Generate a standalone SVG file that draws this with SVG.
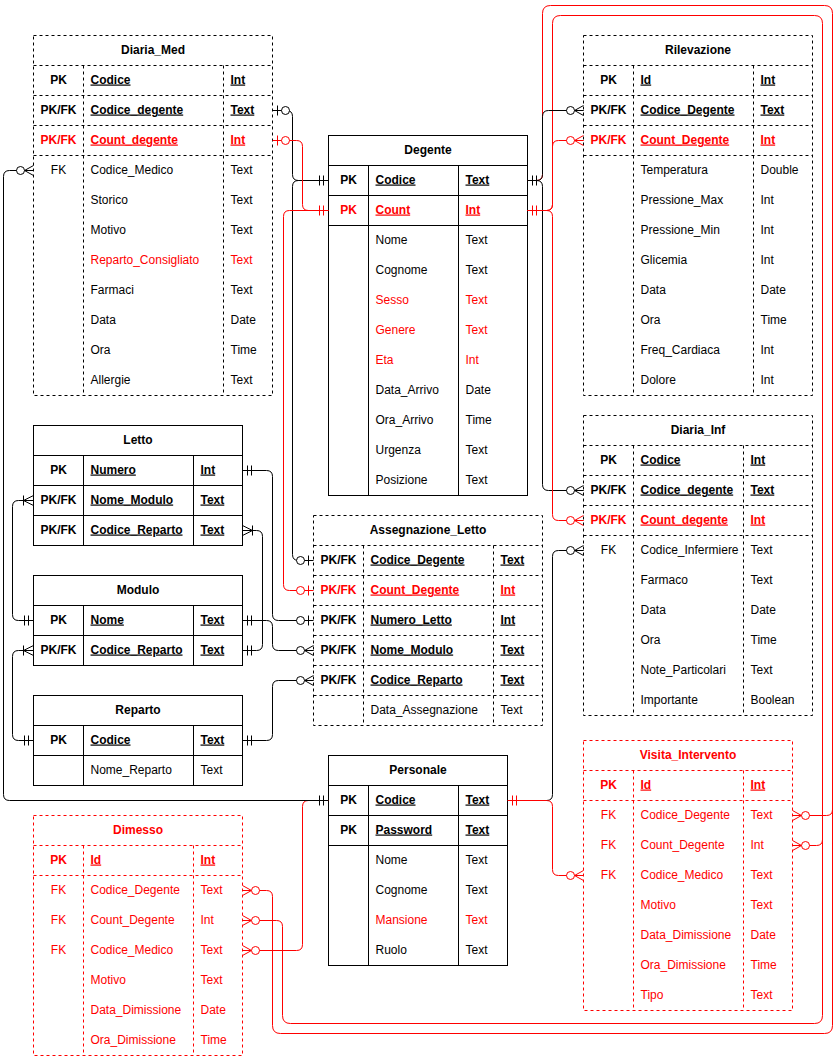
<svg xmlns="http://www.w3.org/2000/svg" xmlns:xlink="http://www.w3.org/1999/xlink" width="838" height="1058" viewBox="0 0 838 1058">
<style>
text{font-family:"Liberation Sans",Arial,Helvetica,sans-serif;font-size:12px;fill:#000;transform:translateY(-1px)}
.r,.r text{fill:#f00}
.tb{fill:#fff;stroke:#000}
.ln{fill:none;stroke:#000}
.r .tb,.r .ln{stroke:#f00}
.d{stroke-dasharray:3 3}
.k{text-anchor:middle}
.b{font-weight:bold}
.u{text-decoration:underline}
.tt{font-weight:bold;text-anchor:middle}
.c{fill:none;stroke:#000}
.cr{fill:none;stroke:#f00}
.mk{stroke:#000;fill:none}
.mr{stroke:#f00;fill:none}
</style>
<defs>
<g id="one"><path d="M5,-5V5M9,-5V5" fill="none"/></g>
<g id="zo"><path d="M5,-5V5" fill="none"/><circle cx="13" cy="0" r="4" fill="#fff"/></g>
<g id="zm"><path d="M0,-5L9,0L0,5M0,0H9" fill="none"/><circle cx="13" cy="0" r="4" fill="#fff"/></g>
<g id="om"><path d="M0,-5L10,0L0,5M0,0H10M10,-5V5" fill="none"/></g>
</defs>
<rect width="838" height="1058" fill="#fff"/>
<g transform="translate(0.5,0.5)">

<g id="diaria_med" transform="translate(33,35)">
<rect class="tb d" width="239" height="360"/>
<path class="ln d" d="M0 30H239M0 60H239M0 90H239M0 120H239M50 30V360M190 30V360"/>
<text class="tt" x="119.5" y="19">Diaria_Med</text>
<text class="k b" x="25" y="49">PK</text><text class="b u" x="57" y="49">Codice</text><text class="b u" x="197" y="49">Int</text>
<text class="k b" x="25" y="79">PK/FK</text><text class="b u" x="57" y="79">Codice_degente</text><text class="b u" x="197" y="79">Text</text>
<g class="r"><text class="k b" x="25" y="109">PK/FK</text><text class="b u" x="57" y="109">Count_degente</text><text class="b u" x="197" y="109">Int</text></g>
<text class="k" x="25" y="139">FK</text><text x="57" y="139">Codice_Medico</text><text x="197" y="139">Text</text>
<text x="57" y="169">Storico</text><text x="197" y="169">Text</text>
<text x="57" y="199">Motivo</text><text x="197" y="199">Text</text>
<g class="r"><text x="57" y="229">Reparto_Consigliato</text><text x="197" y="229">Text</text></g>
<text x="57" y="259">Farmaci</text><text x="197" y="259">Text</text>
<text x="57" y="289">Data</text><text x="197" y="289">Date</text>
<text x="57" y="319">Ora</text><text x="197" y="319">Time</text>
<text x="57" y="349">Allergie</text><text x="197" y="349">Text</text>
</g>

<g id="degente" transform="translate(328,135)">
<rect class="tb" width="199" height="360"/>
<path class="ln" d="M0 30H199M0 60H199M0 90H199M40 30V360M130 30V360"/>
<text class="tt" x="99.5" y="19">Degente</text>
<text class="k b" x="20" y="49">PK</text><text class="b u" x="47" y="49">Codice</text><text class="b u" x="137" y="49">Text</text>
<g class="r"><text class="k b" x="20" y="79">PK</text><text class="b u" x="47" y="79">Count</text><text class="b u" x="137" y="79">Int</text></g>
<text x="47" y="109">Nome</text><text x="137" y="109">Text</text>
<text x="47" y="139">Cognome</text><text x="137" y="139">Text</text>
<g class="r"><text x="47" y="169">Sesso</text><text x="137" y="169">Text</text>
<text x="47" y="199">Genere</text><text x="137" y="199">Text</text>
<text x="47" y="229">Eta</text><text x="137" y="229">Int</text></g>
<text x="47" y="259">Data_Arrivo</text><text x="137" y="259">Date</text>
<text x="47" y="289">Ora_Arrivo</text><text x="137" y="289">Time</text>
<text x="47" y="319">Urgenza</text><text x="137" y="319">Text</text>
<text x="47" y="349">Posizione</text><text x="137" y="349">Text</text>
</g>

<g id="rilevazione" transform="translate(583,35)">
<rect class="tb d" width="229" height="360"/>
<path class="ln d" d="M0 30H229M0 60H229M0 90H229M0 120H229M50 30V360M170 30V360"/>
<text class="tt" x="114.5" y="19">Rilevazione</text>
<text class="k b" x="25" y="49">PK</text><text class="b u" x="57" y="49">Id</text><text class="b u" x="177" y="49">Int</text>
<text class="k b" x="25" y="79">PK/FK</text><text class="b u" x="57" y="79">Codice_Degente</text><text class="b u" x="177" y="79">Text</text>
<g class="r"><text class="k b" x="25" y="109">PK/FK</text><text class="b u" x="57" y="109">Count_Degente</text><text class="b u" x="177" y="109">Int</text></g>
<text x="57" y="139">Temperatura</text><text x="177" y="139">Double</text>
<text x="57" y="169">Pressione_Max</text><text x="177" y="169">Int</text>
<text x="57" y="199">Pressione_Min</text><text x="177" y="199">Int</text>
<text x="57" y="229">Glicemia</text><text x="177" y="229">Int</text>
<text x="57" y="259">Data</text><text x="177" y="259">Date</text>
<text x="57" y="289">Ora</text><text x="177" y="289">Time</text>
<text x="57" y="319">Freq_Cardiaca</text><text x="177" y="319">Int</text>
<text x="57" y="349">Dolore</text><text x="177" y="349">Int</text>
</g>

<g id="diaria_inf" transform="translate(583,415)">
<rect class="tb d" width="229" height="300"/>
<path class="ln d" d="M0 30H229M0 60H229M0 90H229M0 120H229M50 30V300M160 30V300"/>
<text class="tt" x="114.5" y="19">Diaria_Inf</text>
<text class="k b" x="25" y="49">PK</text><text class="b u" x="57" y="49">Codice</text><text class="b u" x="167" y="49">Int</text>
<text class="k b" x="25" y="79">PK/FK</text><text class="b u" x="57" y="79">Codice_degente</text><text class="b u" x="167" y="79">Text</text>
<g class="r"><text class="k b" x="25" y="109">PK/FK</text><text class="b u" x="57" y="109">Count_degente</text><text class="b u" x="167" y="109">Int</text></g>
<text class="k" x="25" y="139">FK</text><text x="57" y="139">Codice_Infermiere</text><text x="167" y="139">Text</text>
<text x="57" y="169">Farmaco</text><text x="167" y="169">Text</text>
<text x="57" y="199">Data</text><text x="167" y="199">Date</text>
<text x="57" y="229">Ora</text><text x="167" y="229">Time</text>
<text x="57" y="259">Note_Particolari</text><text x="167" y="259">Text</text>
<text x="57" y="289">Importante</text><text x="167" y="289">Boolean</text>
</g>

<g id="letto" transform="translate(33,425)">
<rect class="tb" width="209" height="120"/>
<path class="ln" d="M0 30H209M0 60H209M0 90H209M50 30V120M160 30V120"/>
<text class="tt" x="104.5" y="19">Letto</text>
<text class="k b" x="25" y="49">PK</text><text class="b u" x="57" y="49">Numero</text><text class="b u" x="167" y="49">Int</text>
<text class="k b" x="25" y="79">PK/FK</text><text class="b u" x="57" y="79">Nome_Modulo</text><text class="b u" x="167" y="79">Text</text>
<text class="k b" x="25" y="109">PK/FK</text><text class="b u" x="57" y="109">Codice_Reparto</text><text class="b u" x="167" y="109">Text</text>
</g>

<g id="modulo" transform="translate(33,575)">
<rect class="tb" width="209" height="90"/>
<path class="ln" d="M0 30H209M0 60H209M50 30V90M160 30V90"/>
<text class="tt" x="104.5" y="19">Modulo</text>
<text class="k b" x="25" y="49">PK</text><text class="b u" x="57" y="49">Nome</text><text class="b u" x="167" y="49">Text</text>
<text class="k b" x="25" y="79">PK/FK</text><text class="b u" x="57" y="79">Codice_Reparto</text><text class="b u" x="167" y="79">Text</text>
</g>

<g id="reparto" transform="translate(33,695)">
<rect class="tb" width="209" height="90"/>
<path class="ln" d="M0 30H209M0 60H209M50 30V90M160 30V90"/>
<text class="tt" x="104.5" y="19">Reparto</text>
<text class="k b" x="25" y="49">PK</text><text class="b u" x="57" y="49">Codice</text><text class="b u" x="167" y="49">Text</text>
<text x="57" y="79">Nome_Reparto</text><text x="167" y="79">Text</text>
</g>

<g id="assegnazione_letto" transform="translate(313,515)">
<rect class="tb d" width="229" height="210"/>
<path class="ln d" d="M0 30H229M0 60H229M0 90H229M0 120H229M0 150H229M0 180H229M50 30V210M180 30V210"/>
<text class="tt" x="114.5" y="19">Assegnazione_Letto</text>
<text class="k b" x="25" y="49">PK/FK</text><text class="b u" x="57" y="49">Codice_Degente</text><text class="b u" x="187" y="49">Text</text>
<g class="r"><text class="k b" x="25" y="79">PK/FK</text><text class="b u" x="57" y="79">Count_Degente</text><text class="b u" x="187" y="79">Int</text></g>
<text class="k b" x="25" y="109">PK/FK</text><text class="b u" x="57" y="109">Numero_Letto</text><text class="b u" x="187" y="109">Int</text>
<text class="k b" x="25" y="139">PK/FK</text><text class="b u" x="57" y="139">Nome_Modulo</text><text class="b u" x="187" y="139">Text</text>
<text class="k b" x="25" y="169">PK/FK</text><text class="b u" x="57" y="169">Codice_Reparto</text><text class="b u" x="187" y="169">Text</text>
<text x="57" y="199">Data_Assegnazione</text><text x="187" y="199">Text</text>
</g>

<g id="personale" transform="translate(328,755)">
<rect class="tb" width="179" height="210"/>
<path class="ln" d="M0 30H179M0 60H179M0 90H179M40 30V210M130 30V210"/>
<text class="tt" x="89.5" y="19">Personale</text>
<text class="k b" x="20" y="49">PK</text><text class="b u" x="47" y="49">Codice</text><text class="b u" x="137" y="49">Text</text>
<text class="k b" x="20" y="79">PK</text><text class="b u" x="47" y="79">Password</text><text class="b u" x="137" y="79">Text</text>
<text x="47" y="109">Nome</text><text x="137" y="109">Text</text>
<text x="47" y="139">Cognome</text><text x="137" y="139">Text</text>
<g class="r"><text x="47" y="169">Mansione</text><text x="137" y="169">Text</text></g>
<text x="47" y="199">Ruolo</text><text x="137" y="199">Text</text>
</g>

<g id="visita_intervento" class="r" transform="translate(583,740)">
<rect class="tb d" width="209" height="270"/>
<path class="ln d" d="M0 30H209M0 60H209M50 30V270M160 30V270"/>
<text class="tt" x="104.5" y="19">Visita_Intervento</text>
<text class="k b" x="25" y="49">PK</text><text class="b u" x="57" y="49">Id</text><text class="b u" x="167" y="49">Int</text>
<text class="k" x="25" y="79">FK</text><text x="57" y="79">Codice_Degente</text><text x="167" y="79">Text</text>
<text class="k" x="25" y="109">FK</text><text x="57" y="109">Count_Degente</text><text x="167" y="109">Int</text>
<text class="k" x="25" y="139">FK</text><text x="57" y="139">Codice_Medico</text><text x="167" y="139">Text</text>
<text x="57" y="169">Motivo</text><text x="167" y="169">Text</text>
<text x="57" y="199">Data_Dimissione</text><text x="167" y="199">Date</text>
<text x="57" y="229">Ora_Dimissione</text><text x="167" y="229">Time</text>
<text x="57" y="259">Tipo</text><text x="167" y="259">Text</text>
</g>

<g id="dimesso" class="r" transform="translate(33,815)">
<rect class="tb d" width="209" height="240"/>
<path class="ln d" d="M0 30H209M0 60H209M50 30V240M160 30V240"/>
<text class="tt" x="104.5" y="19">Dimesso</text>
<text class="k b" x="25" y="49">PK</text><text class="b u" x="57" y="49">Id</text><text class="b u" x="167" y="49">Int</text>
<text class="k" x="25" y="79">FK</text><text x="57" y="79">Codice_Degente</text><text x="167" y="79">Text</text>
<text class="k" x="25" y="109">FK</text><text x="57" y="109">Count_Degente</text><text x="167" y="109">Int</text>
<text class="k" x="25" y="139">FK</text><text x="57" y="139">Codice_Medico</text><text x="167" y="139">Text</text>
<text x="57" y="169">Motivo</text><text x="167" y="169">Text</text>
<text x="57" y="199">Data_Dimissione</text><text x="167" y="199">Date</text>
<text x="57" y="229">Ora_Dimissione</text><text x="167" y="229">Time</text>
</g>

<g id="connectors">
<g id="red-back">
<path class="cr" d="M242 890H266Q272 890 272 896V1025Q272 1033 280 1033H824Q832 1033 832 1025V13Q832 5 824 5H550Q542 5 542 13V174Q542 180 536 180H527"/>
<path class="cr" d="M242 920H276Q282 920 282 926V1015Q282 1023 290 1023H814Q822 1023 822 1015V23Q822 15 814 15H560Q552 15 552 23V204Q552 210 546 210H527"/>
<path class="cr" d="M792 815H826Q832 815 832 809V700"/>
<path class="cr" d="M792 845H816Q822 845 822 839V700"/>
<path class="cr" d="M242 950H296Q302 950 302 944V806Q302 800 308 800H328"/>
<use xlink:href="#zm" class="mr" transform="translate(242,890)"/>
<use xlink:href="#zm" class="mr" transform="translate(242,920)"/>
<use xlink:href="#zm" class="mr" transform="translate(242,950)"/>
<use xlink:href="#zm" class="mr" transform="translate(792,815)"/>
<use xlink:href="#zm" class="mr" transform="translate(792,845)"/>
</g>
<g id="black">
<path class="c" d="M272 110H286Q292 110 292 116V174Q292 180 298 180H328"/>
<path class="c" d="M328 180H298Q292 180 292 186V554Q292 560 298 560H313"/>
<path class="c" d="M527 180H536Q542 180 542 174V116Q542 110 548 110H583"/>
<path class="c" d="M527 180H536Q542 180 542 186V484Q542 490 548 490H583"/>
<path class="c" d="M583 550H558Q552 550 552 556V794Q552 800 546 800H507"/>
<path class="c" d="M33 170H9Q3 170 3 176V794Q3 800 9 800H328"/>
<path class="c" d="M242 470H266Q272 470 272 476V614Q272 620 278 620H313"/>
<path class="c" d="M242 620H266Q272 620 272 626V644Q272 650 278 650H313"/>
<path class="c" d="M242 530H256Q262 530 262 536V644Q262 650 256 650H242"/>
<path class="c" d="M242 740H266Q272 740 272 734V686Q272 680 278 680H313"/>
<path class="c" d="M33 500H18Q12 500 12 506V614Q12 620 18 620H33"/>
<path class="c" d="M33 650H18Q12 650 12 656V734Q12 740 18 740H33"/>
<use xlink:href="#zo" class="mk" transform="translate(272,110)"/>
<use xlink:href="#one" class="mk" transform="translate(328,180) scale(-1,1)"/>
<use xlink:href="#zo" class="mk" transform="translate(313,560) scale(-1,1)"/>
<use xlink:href="#one" class="mk" transform="translate(527,180)"/>
<use xlink:href="#zm" class="mk" transform="translate(583,110) scale(-1,1)"/>
<use xlink:href="#zm" class="mk" transform="translate(583,490) scale(-1,1)"/>
<use xlink:href="#zm" class="mk" transform="translate(583,550) scale(-1,1)"/>
<use xlink:href="#zm" class="mk" transform="translate(33,170) scale(-1,1)"/>
<use xlink:href="#one" class="mk" transform="translate(328,800) scale(-1,1)"/>
<use xlink:href="#one" class="mk" transform="translate(242,470)"/>
<use xlink:href="#zo" class="mk" transform="translate(313,620) scale(-1,1)"/>
<use xlink:href="#one" class="mk" transform="translate(242,620)"/>
<use xlink:href="#zm" class="mk" transform="translate(313,650) scale(-1,1)"/>
<use xlink:href="#om" class="mk" transform="translate(242,530)"/>
<use xlink:href="#one" class="mk" transform="translate(242,650)"/>
<use xlink:href="#one" class="mk" transform="translate(242,740)"/>
<use xlink:href="#zm" class="mk" transform="translate(313,680) scale(-1,1)"/>
<use xlink:href="#om" class="mk" transform="translate(33,500) scale(-1,1)"/>
<use xlink:href="#one" class="mk" transform="translate(33,620) scale(-1,1)"/>
<use xlink:href="#om" class="mk" transform="translate(33,650) scale(-1,1)"/>
<use xlink:href="#one" class="mk" transform="translate(33,740) scale(-1,1)"/>
</g>
<g id="red-front">
<path class="cr" d="M272 140H296Q302 140 302 146V204Q302 210 308 210H328"/>
<path class="cr" d="M328 210H289Q283 210 283 216V584Q283 590 289 590H313"/>
<path class="cr" d="M527 210H546Q552 210 552 204V146Q552 140 558 140H583"/>
<path class="cr" d="M527 210H546Q552 210 552 216V514Q552 520 558 520H583"/>
<path class="cr" d="M507 800H546Q552 800 552 806V869Q552 875 558 875H583"/>
<use xlink:href="#zo" class="mr" transform="translate(272,140)"/>
<use xlink:href="#one" class="mr" transform="translate(328,210) scale(-1,1)"/>
<use xlink:href="#zo" class="mr" transform="translate(313,590) scale(-1,1)"/>
<use xlink:href="#one" class="mr" transform="translate(527,210)"/>
<use xlink:href="#zm" class="mr" transform="translate(583,140) scale(-1,1)"/>
<use xlink:href="#zm" class="mr" transform="translate(583,520) scale(-1,1)"/>
<use xlink:href="#one" class="mr" transform="translate(507,800)"/>
<use xlink:href="#zm" class="mr" transform="translate(583,875) scale(-1,1)"/>
</g>
</g>
</g>
</svg>
